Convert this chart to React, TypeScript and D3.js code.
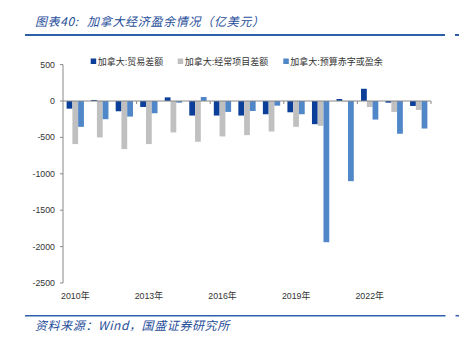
import React from "react";
import * as d3 from "d3";

const years = ["2010","2011","2012","2013","2014","2015","2016","2017","2018","2019","2020","2021","2022","2023","2024"];
const tradeBalance = [-105, 14, -141, -82, 50, -200, -200, -200, -182, -155, -318, 27, 168, -23, -68];
const currentAccount = [-592, -500, -660, -592, -432, -560, -487, -469, -419, -355, -341, -5, -82, -150, -123];
const budgetBalance = [-355, -250, -214, -168, -23, 55, -150, -137, -64, -182, -1940, -1101, -255, -450, -378];
const seriesNames = ["加拿大:贸易差额", "加拿大:经常项目差额", "加拿大:预算赤字或盈余"];
const seriesColors = ["#0B3F9A", "#C0C0C0", "#5087C8"];
const yTicks = [500, 0, -500, -1000, -1500, -2000, -2500];
const xLabelYears = ["2010", "2013", "2016", "2019", "2022"];
const titleHead = "图表40:";
const titleBody = "加拿大经济盈余情况（亿美元）";
const source = "资料来源：Wind，国盛证券研究所";

export default function App() {
  const W = 459, H = 338;
  const left = 63, right = 431, top = 64.6, bottom = 283;
  const x = d3.scaleBand<string>().domain(years).range([left, right]).paddingInner(0).paddingOuter(0);
  const y = d3.scaleLinear().domain([-2500, 500]).range([bottom, top]);
  const groupW = x.bandwidth() * 0.705;
  const sub = d3.scaleBand<number>().domain([0, 1, 2]).range([0, groupW]).padding(0);
  const series = [tradeBalance, currentAccount, budgetBalance];
  const zeroY = y(0);
  const font = "'Liberation Sans', Arial, 'Noto Sans CJK SC', sans-serif";
  const titleFont = "'Noto Sans CJK SC', sans-serif";
  const legendX = [90.7, 177.7, 283.3];

  return (
    <svg width={W} height={H} style={{ position: "absolute", left: 0, top: 0, background: "#fff" }}>
      <text x={35} y={25.5} fontFamily={titleFont} fontSize={12} fontStyle="italic" fill="#1F4E9A" letterSpacing={0.6}>{titleHead}</text>
      <text x={87} y={25.5} fontFamily={titleFont} fontSize={12} fontStyle="italic" fill="#1F4E9A" letterSpacing={0.7}>{titleBody}</text>
      <line x1={25} x2={445} y1={35} y2={35} stroke="#2E60AA" strokeWidth={2} />
      <line x1={455} x2={459} y1={35} y2={35} stroke="#2E60AA" strokeWidth={2} />

      {seriesNames.map((n, i) => (
        <g key={n}>
          <rect x={legendX[i]} y={58.5} width={5.5} height={5.5} fill={seriesColors[i]} />
          <text x={legendX[i] + 7} y={64.6} fontFamily={font} fontSize={9} fill="#333">{n}</text>
        </g>
      ))}

      {/* y axis */}
      <line x1={left} x2={left} y1={top} y2={bottom} stroke="#888" strokeWidth={1} />
      {yTicks.map(t => (
        <g key={t}>
          <line x1={left - 3} x2={left} y1={y(t)} y2={y(t)} stroke="#888" />
          <text x={55} y={y(t) + 3} textAnchor="end" fontFamily={font} fontSize={8.8} fill="#333">{t}</text>
        </g>
      ))}

      {/* bars */}
      {series.map((vals, si) =>
        vals.map((v, i) => {
          const cx = (x(years[i]) as number) + (x.bandwidth() - groupW) / 2 + (sub(si) as number);
          const y0 = y(Math.max(0, v));
          const y1 = y(Math.min(0, v));
          return <rect key={si + "-" + i} x={cx} y={y0} width={sub.bandwidth()} height={Math.max(0.5, y1 - y0)} fill={seriesColors[si]} />;
        })
      )}

      {/* zero line */}
      <line x1={left} x2={right} y1={zeroY} y2={zeroY} stroke="#888" strokeWidth={1} />
      {years.map((yr, i) => (i % 3 === 0 && i > 0 ? (
        <line key={yr} x1={x(yr) as number} x2={x(yr) as number} y1={zeroY} y2={zeroY + 3} stroke="#888" />
      ) : null))}
      <line x1={right} x2={right} y1={zeroY} y2={zeroY + 3} stroke="#888" />

      {xLabelYears.map(yr => (
        <text key={yr} x={(x(yr) as number) + x.bandwidth() / 2} y={298.5} textAnchor="middle" fontFamily={font} fontSize={8.8} fill="#333">{yr + "年"}</text>
      ))}

      <line x1={25} x2={445.5} y1={315.7} y2={315.7} stroke="#2E60AA" strokeWidth={1.5} />
      <line x1={455.5} x2={459} y1={315.7} y2={315.7} stroke="#2E60AA" strokeWidth={1.5} />
      <text x={35} y={330} fontFamily={titleFont} fontSize={12} fontStyle="italic" fill="#1F4E9A" letterSpacing={0.6}>{source}</text>
    </svg>
  );
}
